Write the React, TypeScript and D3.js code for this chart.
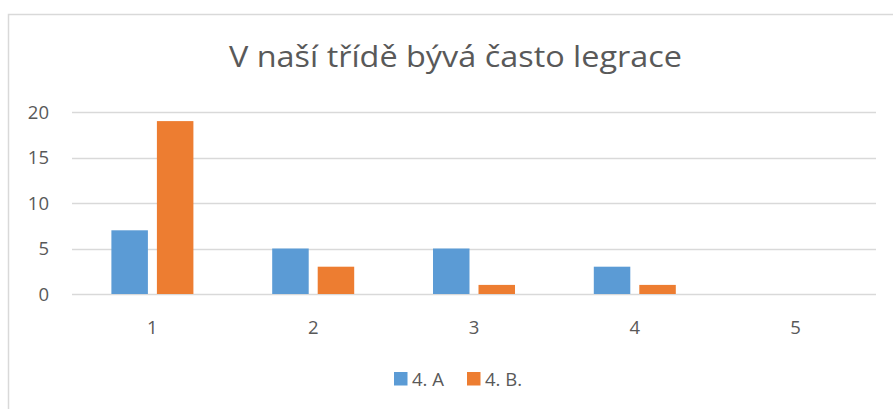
import React from "react";
import * as d3 from "d3";

const categories = ["1", "2", "3", "4", "5"];
const seriesNames = ["4. A", "4. B."];
const valuesA = [7, 5, 5, 3, 0];
const valuesB = [19, 3, 1, 1, 0];
const yTicks = [0, 5, 10, 15, 20];
const colors = ["#5B9BD5", "#ED7D31"];
const title = "V naší třídě bývá často legrace";

const W = 893;
const H = 409;
const FONT = "'Open Sans', 'Noto Sans', sans-serif";
const TEXT = "#595959";
const GRID = "#D9D9D9";

export default function App() {
  const x = d3.scaleBand<string>().domain(categories).range([72, 876]).padding(0);
  const y = d3.scaleLinear().domain([0, 20]).range([294, 112]);
  const band = x.bandwidth();
  const barW = band * 0.227;
  const gap = band * 0.056;
  const groupW = barW * 2 + gap;
  const series = [valuesA, valuesB];

  return (
    <div style={{ position: "absolute", left: 0, top: 0 }}>
      <svg width={W} height={H} style={{ display: "block" }}>
        <rect x={0} y={0} width={W} height={H} fill="#fff" />
        <rect x={8.5} y={14.5} width={W + 20} height={H + 20} fill="#fff" stroke={GRID} strokeWidth={1.5} />
        <text
          x={455.5}
          y={66.5}
          textAnchor="middle"
          fontFamily={FONT}
          fontSize={30}
          fill={TEXT}
          textLength={453}
          lengthAdjust="spacingAndGlyphs"
        >
          {title}
        </text>
        {yTicks.map((t) => (
          <g key={t}>
            <line x1={72} x2={876} y1={Math.round(y(t)) + 0.5} y2={Math.round(y(t)) + 0.5} stroke={GRID} strokeWidth={1.3} />
            <text x={49} y={y(t) + 6.8} textAnchor="end" fontFamily={FONT} fontSize={18.5} fill={TEXT}>
              {t}
            </text>
          </g>
        ))}
        {categories.map((c, i) => {
          const cx = (x(c) as number) + band / 2;
          return (
            <g key={c}>
              {series.map((vals, s) => {
                const bx = cx - groupW / 2 + s * (barW + gap);
                const v = vals[i];
                if (v <= 0) return null;
                return (
                  <rect key={s} x={bx} y={y(v)} width={barW} height={y(0) - y(v)} fill={colors[s]} />
                );
              })}
              <text x={cx} y={334} textAnchor="middle" fontFamily={FONT} fontSize={18.5} fill={TEXT}>
                {c}
              </text>
            </g>
          );
        })}
        {seriesNames.map((n, s) => {
          const lx = s === 0 ? 394 : 467;
          return (
            <g key={n}>
              <rect x={lx} y={372} width={13.5} height={13.5} fill={colors[s]} />
              <text x={lx + 18} y={386} fontFamily={FONT} fontSize={18.5} fill={TEXT}>
                {n}
              </text>
            </g>
          );
        })}
      </svg>
    </div>
  );
}
